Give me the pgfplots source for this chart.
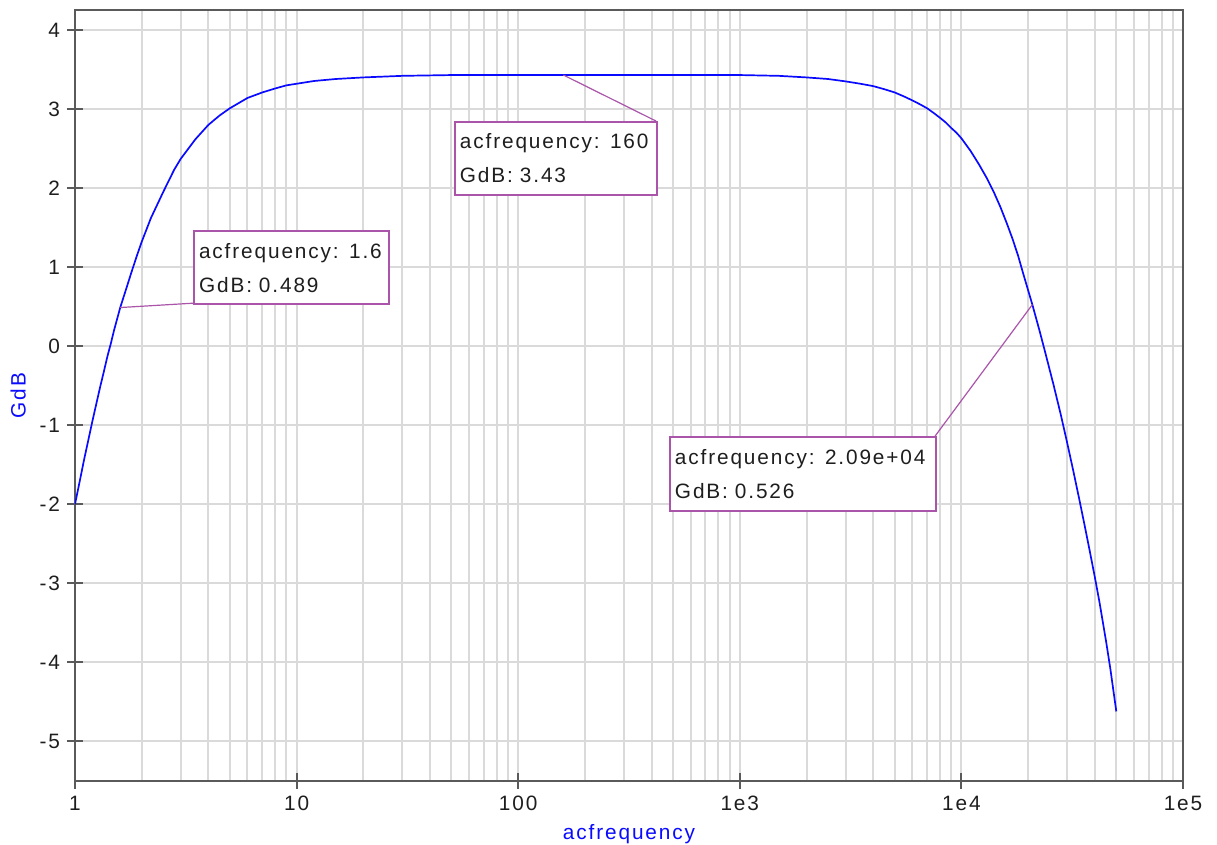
\documentclass[border=0pt]{standalone}
\usepackage{fontspec}
\setmainfont{Liberation Sans}[LetterSpace=9]
\usepackage{pgfplots}
\pgfplotsset{compat=1.18}
\usetikzlibrary{calc}
\definecolor{curveblue}{RGB}{10,10,255}
\definecolor{annot}{RGB}{170,85,170}
\definecolor{gridgray}{RGB}{218,218,218}
\definecolor{axisgray}{RGB}{90,90,90}
\definecolor{ticktext}{RGB}{30,30,30}
\begin{document}
\begin{tikzpicture}
\begin{axis}[
  name=ax,
  scale only axis,
  width=554pt, height=385.5pt,
  xmode=log,
  xmin=1, xmax=100000,
  ymin=-5.5, ymax=4.253,
  xtick={1,10,100,1000,10000,100000},
  xticklabels={1,10,100,1e3,1e4,1e5},
  minor xtick={2,3,4,5,6,7,8,9,20,30,40,50,60,70,80,90,200,300,400,500,600,700,800,900,2000,3000,4000,5000,6000,7000,8000,9000,20000,30000,40000,50000,60000,70000,80000,90000},
  ytick={-5,-4,-3,-2,-1,0,1,2,3,4},
  yticklabels={-5,-4,-3,-2,-1,0,1,2,3,4},
  tick pos=left,
  xmajorgrids=true, xminorgrids=true, ymajorgrids=true,
  major grid style={gridgray, line width=1pt},
  minor grid style={gridgray, line width=1pt},
  minor tick length=0pt,
  major tick length=8pt,
  tick align=center,
  tick style={axisgray, line width=1pt},
  axis line style={axisgray, line width=1pt},
  tick label style={font=\fontsize{10.4pt}{12pt}\selectfont, text=ticktext},
  xlabel={acfrequency}, ylabel={GdB},
  label style={font=\fontsize{10.4pt}{12pt}\selectfont, text=curveblue},
]
\addplot[curveblue, line width=0.85pt, line join=round] coordinates {
(1,-2.0) (1.05,-1.71) (1.1,-1.43) (1.15,-1.18) (1.2,-0.94) (1.25,-0.72)
(1.3,-0.51) (1.35,-0.32) (1.4,-0.13) (1.45,0.03) (1.5,0.20) (1.6,0.489)
(1.7,0.72) (1.8,0.94) (1.9,1.14) (2,1.32) (2.2,1.62) (2.5,1.95) (2.8,2.23)
(3,2.37) (3.5,2.62) (4,2.80) (4.5,2.92) (5,3.01) (6,3.14) (7,3.21) (8,3.26)
(9,3.30) (10,3.32) (12,3.355) (15,3.38) (20,3.40) (30,3.42) (50,3.43)
(160,3.43) (1000,3.43) (1500,3.42) (2000,3.40) (2500,3.38) (3000,3.35)
(3500,3.32) (4000,3.29) (4500,3.25) (5000,3.21) (5500,3.16) (6000,3.11)
(6500,3.06) (7000,3.01) (7500,2.95) (8000,2.89) (8500,2.83) (9000,2.76)
(9500,2.70) (10000,2.63) (11000,2.47) (12000,2.30) (13000,2.13) (14000,1.95)
(15000,1.76) (16000,1.56) (17000,1.36) (18000,1.15) (19000,0.92)
(20900,0.526) (22500,0.20) (24000,-0.10) (26000,-0.48) (28000,-0.85)
(30000,-1.22) (32000,-1.58) (34000,-1.93) (36000,-2.27) (38000,-2.60)
(40000,-2.92) (42000,-3.24) (45000,-3.74) (47000,-4.08) (50000,-4.62)
};
\draw[annot, line width=0.6pt] (axis cs:1.6,0.489) -- (axis cs:3.41,0.544);
\draw[annot, line width=0.6pt] (axis cs:160,3.43) -- (axis cs:418.8,2.848);
\draw[annot, line width=0.6pt] (axis cs:20900,0.526) -- (axis cs:7600,-1.139);
\node[draw=annot, line width=1pt, fill=white, anchor=north west, inner xsep=2.5pt,
  text width=92.5pt, minimum height=36.5pt, align=left,
  font=\fontsize{10.4pt}{17pt}\selectfont, text=ticktext]
  at (axis cs:3.41,1.468) {acfrequency: 1.6\\GdB: 0.489};
\node[draw=annot, line width=1pt, fill=white, anchor=north west, inner xsep=2.5pt,
  text width=96pt, minimum height=36.5pt, align=left,
  font=\fontsize{10.4pt}{17pt}\selectfont, text=ticktext]
  at (axis cs:51.3,2.848) {acfrequency: 160\\GdB: 3.43};
\node[draw=annot, line width=1pt, fill=white, anchor=north west, inner xsep=2.5pt,
  text width=128pt, minimum height=37pt, align=left,
  font=\fontsize{10.4pt}{17pt}\selectfont, text=ticktext]
  at (axis cs:479,-1.139) {acfrequency: 2.09e+04\\GdB: 0.526};
\end{axis}
\pgfresetboundingbox
\useasboundingbox ($(ax.south west)+(-37.5pt,-32pt)$) rectangle ($(ax.north east)+(17pt,5pt)$);
\end{tikzpicture}
\end{document}
